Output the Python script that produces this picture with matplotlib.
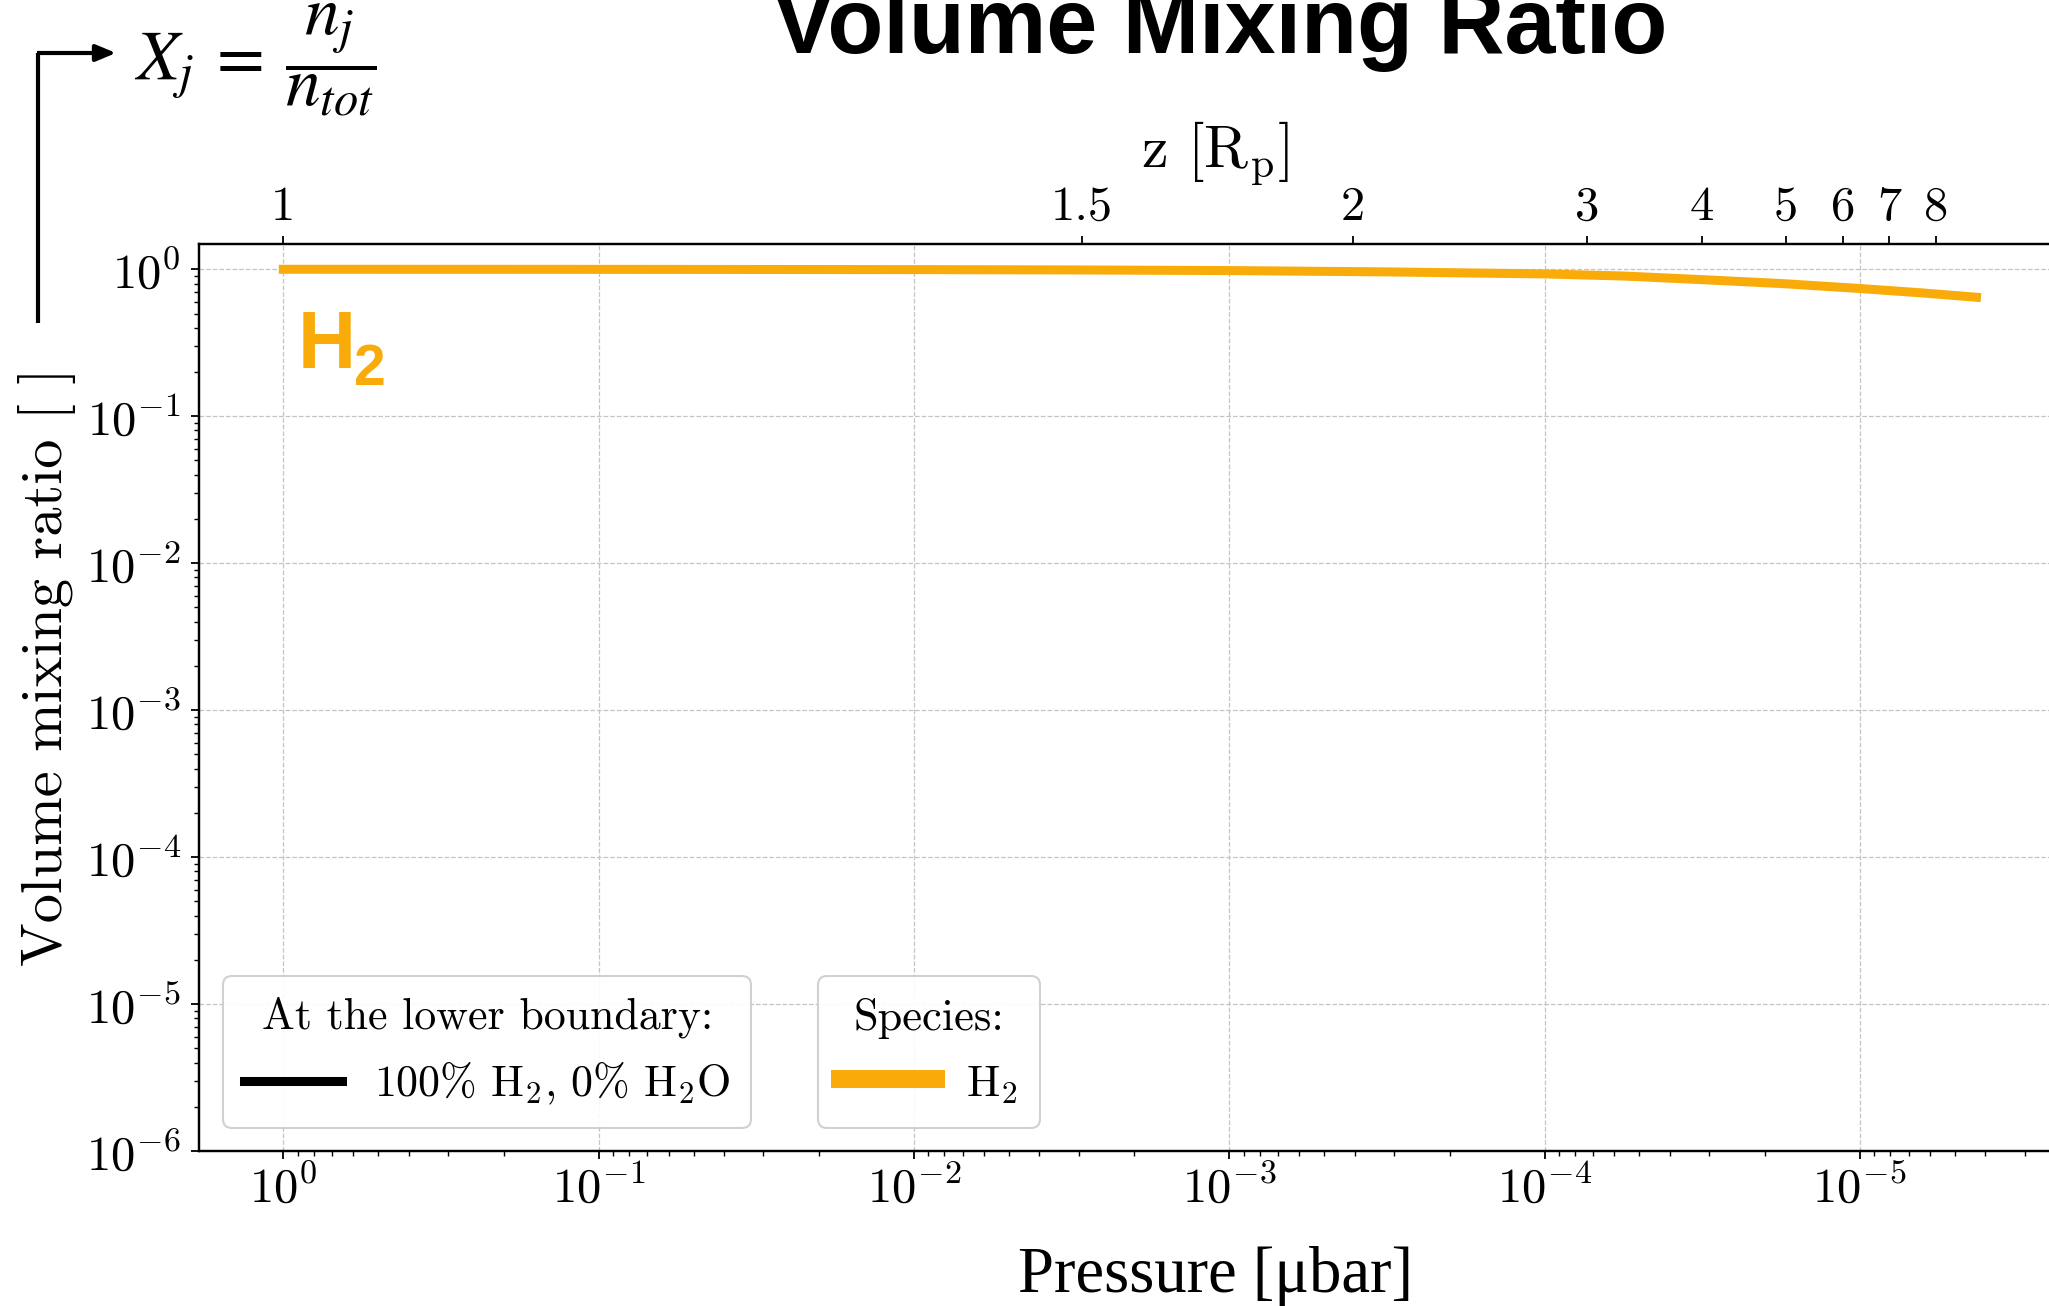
import matplotlib
matplotlib.use("Agg")
import matplotlib.pyplot as plt
from matplotlib.lines import Line2D
from matplotlib.ticker import NullLocator, LogLocator, FixedLocator
from matplotlib import font_manager as fm

# ---------------- data ----------------
pressure_ubar = [1.0, 1e-1, 1e-2, 10**-2.5, 1e-3, 10**-3.5, 1e-4, 10**-4.25,
                 10**-4.5, 10**-4.75, 1e-5, 10**-5.2, 10**-5.37]
vmr_h2 = [1.0, 0.999, 0.995, 0.99, 0.98, 0.96, 0.93, 0.90,
          0.85, 0.80, 0.74, 0.69, 0.645]

x_major_ticks = [1e0, 1e-1, 1e-2, 1e-3, 1e-4, 1e-5]

z_tick_labels = ["1", "1.5", "2", "3", "4", "5", "6", "7", "8"]
z_tick_pressure = [1.0, 10**-2.533, 10**-3.393, 10**-4.135, 10**-4.50,
                   10**-4.766, 10**-4.947, 10**-5.093, 10**-5.242]

species = ["H$_2$"]
boundary_label = "100% H$_2$, 0% H$_2$O"

ORANGE = "#F9AB0A"

# ---------------- style ----------------
plt.rcParams["font.family"] = "serif"
plt.rcParams["font.serif"] = ["cmr10"]
plt.rcParams["mathtext.fontset"] = "cm"
plt.rcParams["axes.formatter.use_mathtext"] = True
plt.rcParams["axes.unicode_minus"] = True

installed = {f.name for f in fm.fontManager.ttflist}
NARROW = "Liberation Sans Narrow" if "Liberation Sans Narrow" in installed else "Liberation Sans"

W, H = 2049, 1306
fig = plt.figure(figsize=(W / 100, H / 100), dpi=100)

# axes extends beyond right edge of the (cropped) figure
ax_l, ax_r, ax_t, ax_b = 199, 2241, 244, 1151
AW, AH = ax_r - ax_l, ax_b - ax_t
ax = fig.add_axes([ax_l / W, (H - ax_b) / H, AW / W, AH / H])

ax.plot(pressure_ubar, vmr_h2, color=ORANGE, lw=6.5, solid_capstyle="projecting")
ax.set_xscale("log")
ax.set_yscale("log")
ax.set_xlim(1.851, 6.18e-7)
ax.set_ylim(1e-6, 1.486)

ax.xaxis.set_major_locator(FixedLocator(x_major_ticks))
ax.yaxis.set_major_locator(LogLocator(base=10, numticks=20))
ax.xaxis.set_minor_locator(LogLocator(base=10, subs=range(2, 10), numticks=100))
ax.yaxis.set_minor_locator(LogLocator(base=10, subs=range(2, 10), numticks=100))

ax.grid(True, which="major", ls="--", color="#c4c4c4", lw=0.9)
ax.set_axisbelow(True)
for sp in ax.spines.values():
    sp.set_linewidth(1.6)

ax.tick_params(which="major", direction="out", length=6, width=1.3,
               labelsize=35, pad=4)
ax.tick_params(axis="y", which="major", pad=7)
ax.tick_params(which="minor", direction="out", length=3.5, width=1.0)

ax.set_xlabel("Pressure [\u03bcbar]", fontsize=46.5, family="Liberation Serif")
ax.xaxis.set_label_coords((1215 - ax_l) / AW, -(1246 - ax_b) / AH)
ax.set_ylabel("Volume mixing ratio [ ]", fontsize=42)
ax.yaxis.set_label_coords((76 - ax_l) / AW, (ax_b - 667) / AH)

# top axis: altitude
ax2 = ax.twiny()
ax2.set_xscale("log")
ax2.set_xlim(ax.get_xlim())
ax2.set_xticks(z_tick_pressure)
ax2.set_xticklabels(z_tick_labels)
ax2.xaxis.set_minor_locator(NullLocator())
ax2.tick_params(axis="x", which="major", direction="out", length=6, width=1.3,
                labelsize=35, pad=4)
ax2.set_xlabel(r"z [R$_{\rm p}$]", fontsize=43)
ax2.xaxis.set_label_coords((1215 - ax_l) / AW, (ax_b - 167) / AH)
for sp in ax2.spines.values():
    sp.set_linewidth(1.6)

# species label inside plot
fig.text(298 / W, (H - 368) / H, "H", color=ORANGE, fontsize=58,
         family=NARROW, weight="bold", ha="left", va="baseline")
fig.text(354 / W, (H - 385) / H, "2", color=ORANGE, fontsize=41,
         family=NARROW, weight="bold", ha="left", va="baseline")

# legends
h_black = Line2D([], [], color="black", lw=6.5)
leg1 = ax.legend([h_black], [boundary_label], title="At the lower boundary:",
                 loc="lower left",
                 bbox_to_anchor=((223 - ax_l) / AW, (ax_b - 1128) / AH),
                 borderaxespad=0, fontsize=31.6, title_fontsize=31.6,
                 handlelength=2.25, handletextpad=0.72, borderpad=0.47,
                 fancybox=True, framealpha=0.9, edgecolor="#cccccc")
leg1.get_frame().set_linewidth(1.5)
ax.add_artist(leg1)
h_orange = Line2D([], [], color=ORANGE, lw=13)
leg2 = ax.legend([h_orange], species, title="Species:", loc="lower left",
                 bbox_to_anchor=((818 - ax_l) / AW, (ax_b - 1128) / AH),
                 borderaxespad=0, fontsize=32, title_fontsize=32,
                 handlelength=2.15, handletextpad=0.68, borderpad=0.5,
                 handleheight=1.0,
                 fancybox=True, framealpha=0.9, edgecolor="#cccccc")
leg2.get_frame().set_linewidth(1.5)

# title (cropped at top of canvas)
fig.text(1220 / W, (H - 53) / H, "Volume Mixing Ratio", fontsize=66,
         family="Liberation Sans", weight="bold", ha="center", va="baseline")

# formula with bent arrow
fig.add_artist(Line2D([38 / W, 38 / W], [(H - 323) / H, (H - 53) / H],
                      transform=fig.transFigure, color="black", lw=3,
                      solid_capstyle="butt"))
fig.add_artist(Line2D([37 / W, 100 / W], [(H - 53) / H, (H - 53) / H],
                      transform=fig.transFigure, color="black", lw=3,
                      solid_capstyle="butt"))
ax.annotate("", xy=(116, H - 53), xytext=(95, H - 53), xycoords="figure pixels",
            textcoords="figure pixels",
            arrowprops=dict(arrowstyle="-|>,head_length=1.2,head_width=0.5",
                            color="black", lw=3, shrinkA=0, shrinkB=0))
fig.text(134 / W, (H - 60) / H, r"$X_j\:=\:\dfrac{n_j}{n_{tot}}$", fontsize=50,
         math_fontfamily="stix", ha="left", va="center")

fig.savefig("out.png", dpi=100)
